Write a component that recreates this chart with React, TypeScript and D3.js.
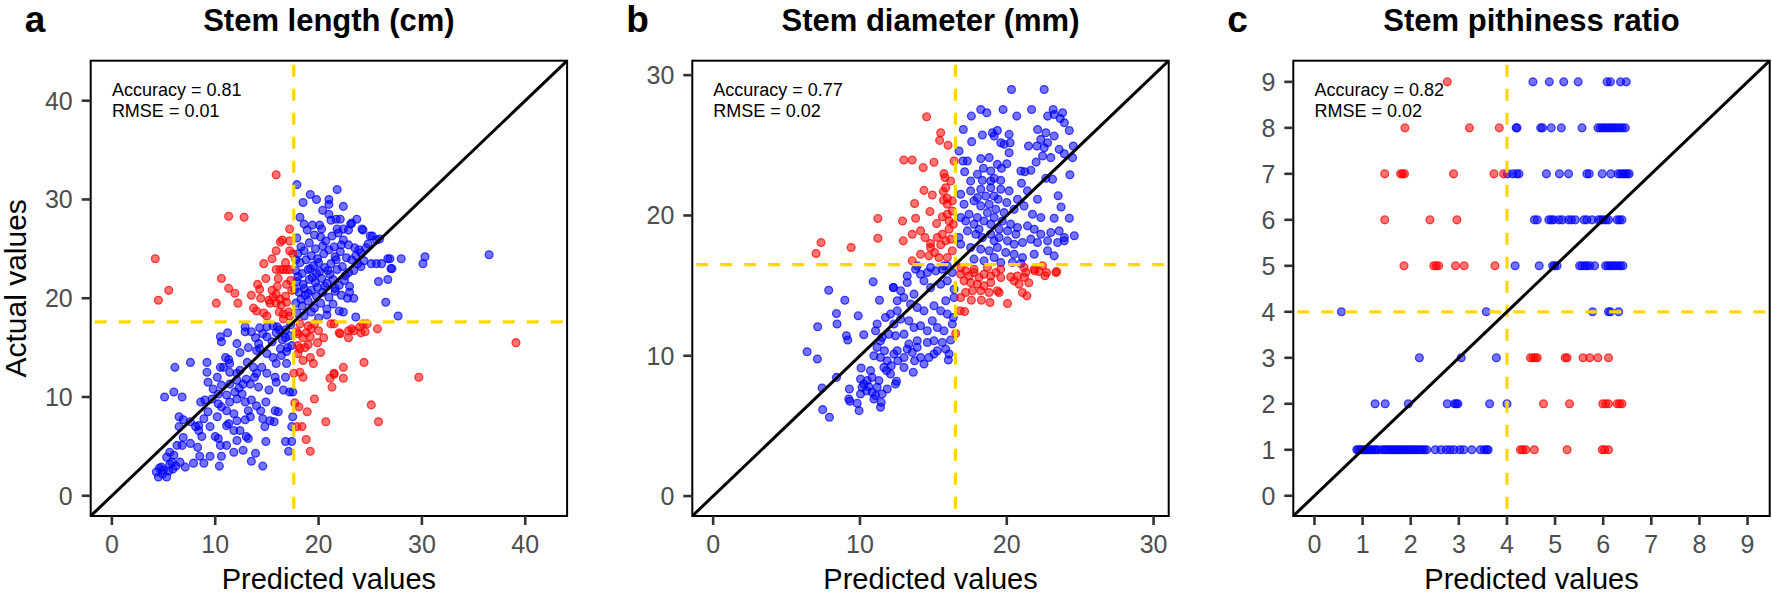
import React from 'react';
import * as d3 from 'd3';

type Pt = [number, number];

// ---------------- Panel a: Stem length (cm) ----------------
const aTicks = [0, 10, 20, 30, 40];
const aBlue: Pt[] = [
  [17.9,31.5],[19.2,30.5],[19.8,30.0],[18.5,29.7],[21.0,30.0],[21.8,31.0],[21.0,29.5],[20.4,28.9],[22.4,29.3],[21.0,28.5],[18.2,28.2],[18.6,27.5],[19.4,27.4],[21.7,28.0],[22.1,28.0],[23.1,27.5],[23.7,28.0],[24.2,27.0],[20.3,27.0],[21.8,27.0],[22.9,26.9],[25.2,26.3],[24.8,25.5],[23.9,24.9],[24.1,23.2],
  [17.9,26.1],[18.3,25.2],[18.0,24.5],[18.6,24.8],[19.1,25.6],[19.6,26.4],[20.2,26.2],[20.7,25.8],[21.3,26.3],[21.9,26.6],[22.4,25.9],[22.9,25.4],[23.5,25.1],[24.1,24.6],[18.2,23.6],[18.8,23.9],[19.3,24.3],[19.9,24.0],[20.5,24.5],[21.0,24.9],[21.6,24.2],[22.1,24.7],[22.7,24.1],[23.2,23.9],[23.8,23.5],[24.4,23.8],[17.8,22.8],[18.4,22.5],[19.0,22.9],[19.5,23.3],[20.1,22.7],[20.6,23.1],[21.2,23.5],[21.8,22.9],[22.3,23.2],[22.9,22.6],[23.4,22.8],[17.9,21.7],[18.5,21.4],[19.1,21.9],[19.7,21.6],[20.3,22.0],[20.8,21.5],[21.4,21.9],[22.0,21.3],[22.5,21.8],[23.0,21.2],[18.1,20.6],[18.7,20.3],[19.3,20.8],[19.8,20.2],[20.4,20.6],[21.0,20.1],[21.6,20.7],[22.2,20.3],[22.8,20.0],[17.8,19.5],[18.4,19.2],[19.0,19.7],[19.6,19.0],[20.2,19.5],[20.8,18.9],[21.4,19.4],[22.0,18.7],[17.9,18.5],[18.6,18.2],[19.3,18.6],[20.0,18.0],[17.7,20.9],[17.8,23.9],[18.9,26.9],[20.1,27.4],[21.2,27.9],[22.4,27.0],[23.2,27.6],[24.3,26.9],
  [19.4,22.1],[19.9,21.1],[20.6,21.2],[21.1,22.4],[20.0,23.6],[19.2,23.0],[18.6,21.0],[21.7,23.9],[22.6,22.3],[20.4,25.3],[19.7,25.0],[21.5,25.2],[22.2,25.4],[23.6,24.3],[24.6,25.1],[18.3,19.9],[19.0,20.5],[18.0,22.2],[19.8,22.5],[20.9,22.8],[21.6,21.0],
  [25.0,26.3],[25.6,25.9],[25.9,26.0],[26.7,24.0],[28.0,24.0],[30.3,24.2],[30.1,23.5],[25.1,23.5],[25.6,23.5],[26.1,23.5],[27.0,23.0],[25.8,21.7],[26.7,21.9],[26.5,19.6],[27.7,18.2],[23.6,18.1],[23.0,20.6],[23.4,20.0],[22.4,18.6],[20.8,18.3],[36.5,24.4],[26.9,24.0],[27.1,23.0],
  [12.9,17.1],[13.5,16.6],[14.3,17.0],[15.0,17.1],[16.0,17.1],[16.8,16.8],[11.2,16.5],[15.5,15.6],[16.2,16.8],[16.8,16.0],[17.3,17.3],[15.6,17.2],[14.6,16.4],[13.9,16.0],[17.0,15.0],[16.3,14.9],
  [10.5,16.1],[10.6,15.6],[12.1,15.4],[12.9,16.6],[13.2,15.0],[14.2,15.4],[14.3,14.9],[15.0,16.1],[15.9,16.5],[16.5,15.8],[17.2,16.2],[17.4,15.2],[16.9,14.6],
  [6.1,13.0],[7.6,13.5],[9.2,13.5],[9.2,12.5],[10.2,12.0],[9.3,11.5],[10.5,13.0],[10.8,13.0],[11.4,12.5],[12.1,12.4],[11.3,13.8],[11.0,14.0],[12.4,14.5],[14.0,14.7],[15.0,14.4],[15.6,14.0],[15.9,13.4],[16.9,13.4],[16.4,14.2],[14.5,13.0],[15.0,12.4],[14.0,12.4],[13.0,11.8],[12.7,11.3],[13.4,11.3],[14.2,11.0],[15.2,10.7],[15.9,11.5],[16.8,12.0],[17.2,10.5],[17.5,10.5],[14.9,9.5],[16.1,8.5],[15.7,7.5],[14.6,7.8],[14.8,7.0],[17.5,8.0],[17.4,7.0],[16.8,5.5],[17.4,5.5],[17.1,4.5],[14.9,5.5],[13.9,4.3],[13.5,3.5],[14.6,3.0],[12.7,4.6],[13.0,6.0],[11.8,6.6],[11.1,7.1],[12.1,5.6],[10.5,5.1],[10.6,4.0],[10.4,3.0],[9.5,4.0],[8.5,4.0],[8.9,3.3],[7.9,3.3],[8.3,4.9],[7.6,5.3],[6.9,5.9],[6.3,5.1],[6.6,3.4],[7.1,2.9],[5.6,3.2],[5.0,2.6],[4.3,2.4],[4.5,1.9],[5.3,1.9],[4.8,2.9],[5.3,3.9],[6.0,4.1],[5.8,3.4],[6.8,5.1],[6.5,7.0],[6.9,7.7],[6.5,8.0],[7.6,7.5],[8.1,7.0],[8.4,6.6],[8.7,6.0],[9.5,7.0],[10.0,6.0],[10.3,5.8],[11.1,5.1],[11.8,4.4],[8.4,7.1],[8.9,7.8],[9.3,8.5],[10.2,8.0],[11.3,7.3],[12.1,7.6],[12.9,7.7],[13.4,8.0],[12.4,6.6],[13.2,5.8],[8.6,9.5],[9.0,9.7],[9.7,9.8],[10.3,9.3],[10.6,9.0],[11.1,8.6],[11.8,8.3],[11.4,9.5],[12.1,9.8],[12.6,10.3],[12.9,9.5],[13.5,9.7],[13.2,8.6],[11.9,10.5],[11.1,10.2],[10.3,10.3],[9.8,10.8],[10.6,11.2],[11.4,11.3],[12.1,11.7],[11.4,13.4],[12.4,12.7],[13.1,13.5],[13.7,13.0],[5.1,10.0],[6.0,10.5],[6.8,10.0],[15.3,7.6],[15.8,8.6],[14.4,8.6],[14.0,9.1],[4.9,2.2],[5.5,2.5],[4.6,2.8],[5.9,2.7],[6.2,3.0],[5.6,4.4],[15.8,12.0],[16.6,10.7],[13.8,12.0],[12.3,10.9],
];
const aRed: Pt[] = [
  [15.9,32.5],[11.3,28.3],[12.8,28.2],[4.2,24.0],[5.5,20.8],[4.5,19.8],[10.6,22.0],[11.3,21.0],[11.9,20.5],[10.1,19.5],[12.2,19.5],[13.7,19.0],[14.0,18.7],[14.7,18.5],[14.7,23.5],[14.9,22.0],[14.1,21.4],[14.3,20.9],[14.4,20.0],[15.2,19.8],[15.5,24.0],[15.9,24.8],[16.3,25.7],[16.5,25.9],[17.2,25.8],[17.2,27.0],[15.9,22.9],[16.3,22.9],[16.6,22.9],[16.9,22.9],[17.2,22.9],[16.1,22.0],[16.9,21.4],[15.5,20.8],[15.9,20.4],[15.6,20.1],[16.3,19.9],[16.8,20.2],[15.9,19.5],[16.4,19.3],[16.9,19.6],[16.2,18.6],[16.6,18.4],[17.1,18.6],[17.2,18.2],[15.3,19.5],[17.2,24.8],[17.5,24.5],[16.8,23.6],[17.4,20.8],[15.0,18.2],[13.5,20.3],[16.0,21.2],[17.3,21.8],[16.6,17.9],
  [18.0,16.4],[18.5,16.0],[19.3,16.9],[19.6,17.4],[20.0,16.7],[21.5,17.4],[22.0,16.5],[22.9,16.0],[23.2,16.9],[24.0,17.1],[24.3,17.4],[24.5,16.6],[25.7,16.9],[23.4,16.7],[24.1,16.5],
  [17.9,16.6],[19.2,16.1],[22.1,16.4],[18.0,15.2],[18.7,15.0],[18.0,14.4],[19.2,14.0],[20.2,14.5],[18.5,13.7],[17.6,12.4],[18.2,12.5],[18.5,12.0],[22.4,13.0],[24.4,13.5],[21.5,12.4],[21.1,11.9],[22.4,11.9],[29.7,12.0],[21.3,11.0],[19.6,9.8],[17.7,9.4],[18.1,9.0],[18.9,8.5],[25.1,9.2],[25.8,7.5],[20.7,7.5],[17.9,7.0],[18.4,7.0],[18.8,5.7],[19.2,4.5],[39.1,15.5],[22.9,16.7],[21.2,17.4],[24.7,17.4],[19.0,17.2],[18.8,16.5],[20.5,16.0],[19.9,15.5],[18.2,14.9],[19.0,15.3],[21.5,12.3],[18.2,17.4],[19.5,13.4],
];

// ---------------- Panel b: Stem diameter (mm) ----------------
const bTicks = [0, 10, 20, 30];
const bBlue: Pt[] = [
  [20.32,28.98],[22.55,28.98],[17.59,27.08],[18.23,27.55],[18.64,27.32],[19.75,27.55],[20.68,27.08],[21.69,27.55],[23.16,27.55],[22.78,27.08],[23.23,27.2],[23.8,27.32],[23.92,26.61],[23.64,26.91],[17.04,26.13],[17.61,25.26],[18.34,25.73],[19.02,25.9],[19.14,25.66],[19.36,26.06],[19.59,25.18],[19.82,25.07],[20.23,25.18],[20.16,25.78],[21.48,24.95],[22.1,26.13],[22.66,25.9],[22.32,25.42],[22.05,24.95],[22.55,24.83],[22.78,25.18],[23.23,25.66],[24.26,26.06],[24.53,24.95],[24.48,24.12],[23.92,24.4],[23.57,24.71],[20.16,24.47],[23.0,24.12],[22.44,24.24],
  [16.75,24.59],[17.02,23.88],[17.32,23.88],[18.23,24.05],[18.8,24.12],[19.36,23.64],[20.0,23.69],[19.64,23.36],[17.13,23.12],[18.0,22.93],[18.41,23.36],[18.91,23.17],[19.14,22.65],[19.59,22.5],[20.96,23.17],[21.23,23.12],[21.64,23.22],[17.54,22.46],[18.34,22.5],[18.91,22.46],
  [16.86,21.51],[17.54,21.75],[18.23,21.87],[18.91,21.98],[19.59,21.87],[20.16,21.75],[20.73,21.15],[21.41,21.75],[22.09,21.15],[22.66,22.65],[23.12,22.58],[17.09,20.8],[17.77,21.04],[18.23,20.68],[18.8,20.8],[19.41,21.15],[20.0,20.92],[20.5,20.44],[21.18,20.68],[21.75,20.09],[22.32,19.85],[23.23,19.8],[24.26,19.8],
  [16.86,19.85],[17.43,20.09],[18.0,19.85],[18.45,19.61],[19.14,19.85],[19.7,19.61],[20.27,19.38],[20.73,19.14],[21.41,19.26],[21.87,19.02],[22.32,18.66],[23.0,18.78],[23.57,18.9],[23.92,18.43],[16.75,18.43],[17.32,18.9],[17.89,18.66],[18.34,18.43],[18.91,18.66],[19.48,18.43],[20.05,18.19],[20.5,17.95],[21.07,18.07],[21.64,18.31],[22.09,18.07],[22.78,18.19],[23.46,18.07],[23.92,18.19],[24.6,18.55],
  [16.86,17.95],[17.54,17.72],[18.23,17.6],[18.8,17.48],[19.36,17.72],[19.93,17.36],[20.5,17.24],[21.07,17.0],[21.87,17.24],[22.78,17.48],[23.23,17.12],[17.77,16.89],[18.45,16.77],[19.14,17.0],[19.59,16.65],[20.39,16.65],[20.96,16.58],
  [18.0,21.27],[18.57,21.39],[19.14,21.39],[18.68,20.2],[19.25,20.44],[19.82,20.2],[18.91,19.38],[19.48,19.02],[17.77,19.38],[17.2,19.61],[18.11,19.02],[20.05,18.9],[20.62,18.66],[19.14,18.19],[22.0,23.8],[21.0,22.3],[23.7,20.6],[24.3,22.9],[23.5,21.4],
  [7.87,14.67],[8.97,13.96],[10.9,15.27],[11.33,13.96],[12.27,14.86],[8.4,13.01],[8.44,12.26],[9.88,12.85],[7.12,12.07],[9.08,11.43],[9.17,11.12],[10.26,11.5],[6.4,10.29],[7.1,9.77],[8.4,8.46],[7.42,7.7],[7.46,6.16],[7.92,5.62],[9.28,7.63],[9.24,6.92],[9.31,6.76],[9.81,6.61],[9.94,6.09],[10.08,9.13],
  [10.04,8.34],[10.26,7.99],[10.72,8.94],[10.83,8.46],[10.45,7.51],[10.83,7.4],[11.17,7.75],[11.06,7.16],[11.51,7.28],[11.45,6.68],[11.86,7.63],[12.42,7.99],[12.49,8.18],[12.08,8.7],[11.63,9.17],[10.15,7.75],[10.49,8.23],[11.29,8.23],[10.04,7.28],[10.95,6.92],[11.4,6.33],[10.6,7.8],
  [11.17,10.6],[11.67,10.36],[10.95,10.0],[11.4,9.88],[11.86,9.65],[12.13,9.29],[11.81,8.94],[12.31,10.12],[12.54,10.36],[12.58,9.65],[13.0,9.88],[13.22,10.48],[13.56,10.24],[13.9,10.6],[14.13,9.88],[13.72,9.65],[13.0,9.17],[13.63,8.82],[14.36,9.41],[14.7,9.88],[15.04,10.12],[15.27,10.36],[15.84,10.48],[16.07,10.12],[16.02,9.7],[15.61,10.95],[16.18,11.12],[15.04,11.07],[14.59,10.95],[13.9,11.07],[13.33,10.83],
  [13.79,16.17],[14.13,15.81],[14.59,15.93],[15.16,16.05],[15.61,16.17],[15.95,16.4],[16.29,15.93],[14.36,15.34],[14.81,14.86],[15.5,15.1],[15.95,15.34],[16.41,14.74],[13.22,15.22],[13.68,14.39],[12.99,14.15],[12.54,13.92],[13.45,13.68],[13.9,13.44],[14.36,13.2],[15.04,13.56],[15.5,13.2],[15.95,12.97],[16.36,12.73],[16.41,14.15],[15.84,13.92],[11.74,12.73],[12.08,12.97],[12.54,13.2],[12.31,12.26],[12.77,12.61],[13.33,12.49],[13.68,12.02],[14.13,12.14],[14.59,11.78],[14.93,12.49],[11.17,12.26],[11.06,11.78],[11.4,11.07],[11.97,11.54],[12.42,11.43],[13.0,11.54],[11.51,11.31],[15.27,12.02],[15.72,11.78],[16.29,12.26],[12.77,14.63],[13.22,15.69],[13.9,16.41],[14.81,16.29],[15.72,16.41],[12.28,14.87],
];
const bRed: Pt[] = [
  [14.54,27.03],[15.5,25.9],[15.43,25.35],[16.0,25.0],[12.99,23.95],[13.56,23.95],[15.04,23.79],[14.31,23.41],[16.41,23.88],[15.72,22.98],[15.79,22.7],[14.36,21.79],[14.93,21.46],[15.68,21.7],[15.95,21.22],[13.72,20.85],[14.77,20.28],[11.22,19.78],[11.22,18.38],[12.9,19.61],[13.79,19.8],[15.22,19.42],[15.61,19.9],
  [15.95,20.09],[16.29,20.32],[16.07,19.61],[16.36,19.38],[15.95,20.8],[16.29,21.04],[15.68,21.08],[16.18,22.46],[15.84,21.98],
  [13.56,18.66],[14.13,18.9],[12.95,18.19],[14.43,18.43],[14.81,18.0],[15.61,18.66],[15.84,18.19],[16.18,18.31],[15.5,17.91],[15.09,17.36],[14.7,17.12],[14.13,17.24],[13.56,16.77],[16.29,17.48],[15.95,17.0],[15.38,17.0],[14.81,17.72],[16.07,19.02],[15.27,18.43],
  [7.35,18.07],[7.01,17.29],[9.4,17.72],
  [16.86,15.81],[17.2,16.05],[17.43,15.69],[17.77,15.93],[18.11,15.57],[18.45,15.81],[18.91,15.69],[19.25,15.93],[19.59,15.57],[17.09,15.34],[17.54,15.22],[18.0,15.1],[18.45,14.98],[18.91,15.22],[19.36,14.63],[18.8,14.51],[18.23,14.63],[17.66,14.63],[17.2,14.51],[16.86,14.15],[17.59,13.96],[18.27,13.96],[18.86,13.8],[20.05,13.73],[19.48,14.51],[20.5,15.34],[20.84,15.1],[21.07,14.51],[21.37,14.27],[21.3,15.93],[21.91,16.05],[22.71,15.93],[23.35,15.93],[20.73,15.69],[20.27,15.62],[16.82,13.2],[17.13,13.16],[16.52,11.59],
  [16.86,16.29],[17.77,16.17],[18.68,16.29],[19.59,16.17],[21.18,16.29],[21.87,16.17],[22.44,16.41],[22.2,16.0],[23.4,16.0],[21.2,15.6],[21.5,15.2],[22.6,15.7],
];

// ---------------- Panel c: Stem pithiness ratio ----------------
const cTicks = [0, 1, 2, 3, 4, 5, 6, 7, 8, 9];
const cBlue: Pt[] = [
  [4.54,9],[4.88,9],[5.18,9],[5.48,9],[6.08,9],[6.15,9],[6.36,9],[6.48,9],
  [4.19,8],[4.21,8],[4.70,8],[4.74,8],[4.92,8],[5.13,8],[5.56,8],[5.89,8],[5.94,8],[5.99,8],[6.04,8],[6.09,8],[6.14,8],[6.19,8],[6.24,8],[6.29,8],[6.35,8],[6.40,8],[6.46,8],
  [4.01,7],[4.12,7],[4.20,7],[4.25,7],[4.82,7],[5.09,7],[5.28,7],[5.66,7],[5.71,7],[5.98,7],[6.16,7],[6.31,7],[6.36,7],[6.41,7],[6.45,7],[6.50,7],[6.54,7],
  [4.57,6],[4.63,6],[4.87,6],[4.92,6],[4.97,6],[5.08,6],[5.15,6],[5.28,6],[5.34,6],[5.42,6],[5.60,6],[5.66,6],[5.77,6],[5.90,6],[5.95,6],[6.00,6],[6.06,6],[6.11,6],[6.29,6],[6.34,6],[6.39,6],
  [4.17,5],[4.67,5],[4.95,5],[4.99,5],[5.04,5],[5.51,5],[5.56,5],[5.62,5],[5.66,5],[5.72,5],[5.82,5],[6.05,5],[6.10,5],[6.15,5],[6.20,5],[6.25,5],[6.31,5],[6.36,5],[6.41,5],
  [0.56,4],[3.57,4],[5.78,4],[6.11,4],[6.15,4],[6.32,4],
  [2.18,3],[3.05,3],[3.78,3],
  [1.26,2],[1.47,2],[1.95,2],[2.76,2],[2.91,2],[2.95,2],[2.98,2],[3.64,2],[4.0,2],
  [0.88,1],[0.91,1],[0.95,1],[0.99,1],[1.03,1],[1.07,1],[1.11,1],[1.15,1],[1.19,1],[1.24,1],[1.28,1],[1.33,1],[1.41,1],[1.46,1],[1.50,1],[1.55,1],[1.59,1],[1.64,1],[1.68,1],[1.72,1],[1.77,1],[1.81,1],[1.86,1],[1.90,1],[1.95,1],[1.99,1],[2.04,1],[2.09,1],[2.13,1],[2.18,1],[2.23,1],[2.28,1],[2.33,1],
  [2.51,1],[2.63,1],[2.74,1],[2.82,1],[2.90,1],[3.02,1],[3.10,1],[3.27,1],[3.45,1],[3.53,1],[3.58,1],[3.61,1],
];
const cRed: Pt[] = [
  [2.76,9],
  [1.88,8],[3.22,8],[3.84,8],
  [1.46,7],[1.79,7],[1.83,7],[1.87,7],[2.89,7],[3.73,7],[3.93,7],
  [1.46,6],[2.40,6],[2.96,6],
  [1.86,5],[2.48,5],[2.53,5],[2.58,5],[2.93,5],[3.11,5],[3.75,5],
  [4.49,3],[4.54,3],[4.59,3],[4.63,3],[5.21,3],[5.25,3],[5.58,3],[5.72,3],[5.89,3],[6.11,3],
  [4.76,2],[5.30,2],[5.99,2],[6.05,2],[6.11,2],[6.29,2],[6.34,2],[6.39,2],
  [4.28,1],[4.33,1],[4.39,1],[4.57,1],[5.25,1],[5.98,1],[6.03,1],[6.11,1],
];

const letters = ['a', 'b', 'c'];
const titles = ['Stem length (cm)', 'Stem diameter (mm)', 'Stem pithiness ratio'];
const thresholds = [17.6, 16.5, 4];
const accuracies = ['0.81', '0.77', '0.82'];
const rmses = ['0.01', '0.02', '0.02'];
const domains: [number, number][] = [[-2.05, 44.05], [-1.42, 31.03], [-0.44, 9.46]];

// ---------------- layout ----------------
const W = 1772;
const H = 598;
const FONT = '"Liberation Sans", Arial, Helvetica, sans-serif';
const TOP = 60.7;
const BOTTOM = 516;
const PANEL_W = 476.4;
const LEFTS = [90.7, 692.3, 1293.3];

interface PanelSpec {
  idx: number;
  ticks: number[];
  blue: Pt[];
  red: Pt[];
}

const panels: PanelSpec[] = [
  { idx: 0, ticks: aTicks, blue: aBlue, red: aRed },
  { idx: 1, ticks: bTicks, blue: bBlue, red: bRed },
  { idx: 2, ticks: cTicks, blue: cBlue, red: cRed },
];

function Panel({ p }: { p: PanelSpec }) {
  const i = p.idx;
  const left = LEFTS[i];
  const dom = domains[i];
  const x = d3.scaleLinear().domain(dom).range([left, left + PANEL_W]);
  const y = d3.scaleLinear().domain(dom).range([BOTTOM, TOP]);
  const cx = left + PANEL_W / 2;
  const clipId = 'clip-' + letters[i];
  const thr = thresholds[i];
  const dot = (d: Pt, k: number, col: string) => (
    <circle key={col + k} cx={x(d[0])} cy={y(d[1])} r={3.9}
      fill={col} fillOpacity={0.55} stroke={col} strokeOpacity={0.7} strokeWidth={1.3} />
  );
  return (
    <g fontFamily={FONT}>
      <defs>
        <clipPath id={clipId}>
          <rect x={left} y={TOP} width={PANEL_W} height={BOTTOM - TOP} />
        </clipPath>
      </defs>
      <text x={left - 66} y={32} fontSize={37} fontWeight="bold" fill="#000">{letters[i]}</text>
      <text x={cx} y={31} textAnchor="middle" fontSize={31} fontWeight="bold" fill="#000">{titles[i]}</text>
      <g clipPath={`url(#${clipId})`}>
        {p.blue.map((d, k) => dot(d, k, '#0000FF'))}
        {p.red.map((d, k) => dot(d, k, '#FF0000'))}
        <line x1={x(thr)} x2={x(thr)} y1={TOP + 4} y2={BOTTOM} stroke="#FFD700" strokeWidth={3.2} strokeDasharray="12 12" />
        <line x1={left + 4} x2={left + PANEL_W} y1={y(thr)} y2={y(thr)} stroke="#FFD700" strokeWidth={3.2} strokeDasharray="12 12" />
        <line x1={x(dom[0])} y1={y(dom[0])} x2={x(dom[1])} y2={y(dom[1])} stroke="#000" strokeWidth={3} />
      </g>
      <rect x={left} y={TOP} width={PANEL_W} height={BOTTOM - TOP} fill="none" stroke="#000" strokeWidth={2} />
      {p.ticks.map(t => (
        <g key={'xt' + t}>
          <line x1={x(t)} x2={x(t)} y1={BOTTOM} y2={BOTTOM + 9} stroke="#333" strokeWidth={2.6} />
          <text x={x(t)} y={BOTTOM + 37} textAnchor="middle" fontSize={25} fill="#4D4D4D">{t}</text>
        </g>
      ))}
      {p.ticks.map(t => (
        <g key={'yt' + t}>
          <line x1={left - 9} x2={left} y1={y(t)} y2={y(t)} stroke="#333" strokeWidth={2.6} />
          <text x={left - 18} y={y(t) + 9} textAnchor="end" fontSize={25} fill="#4D4D4D">{t}</text>
        </g>
      ))}
      <text x={x(0)} y={TOP + 35} fontSize={18} fill="#000">{`Accuracy = ${accuracies[i]}`}</text>
      <text x={x(0)} y={TOP + 56} fontSize={18} fill="#000">{`RMSE = ${rmses[i]}`}</text>
      <text x={cx} y={589} textAnchor="middle" fontSize={29} fill="#000">Predicted values</text>
      {i === 0 && (
        <text transform={`translate(26, ${(TOP + BOTTOM) / 2}) rotate(-90)`} textAnchor="middle" fontSize={30} fill="#000">Actual values</text>
      )}
    </g>
  );
}

export default function App() {
  return (
    <svg width={W} height={H} viewBox={`0 0 ${W} ${H}`}
      style={{ position: 'absolute', left: 0, top: 0, background: '#fff' }}>
      <rect x={0} y={0} width={W} height={H} fill="#fff" />
      {panels.map(p => <Panel key={p.idx} p={p} />)}
    </svg>
  );
}
